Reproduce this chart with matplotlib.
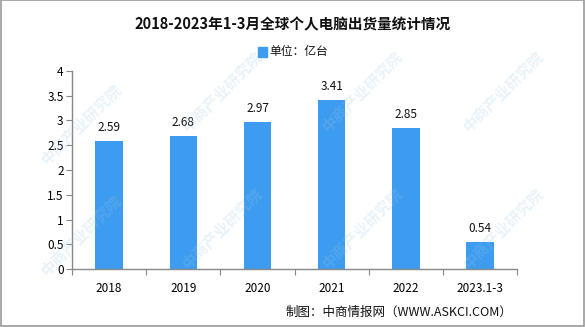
import matplotlib
matplotlib.use("Agg")
import matplotlib.pyplot as plt
from matplotlib.patches import Rectangle

plt.rcParams['font.family'] = ['Noto Sans CJK SC', 'DejaVu Sans']

categories = ["2018", "2019", "2020", "2021", "2022", "2023.1-3"]
shipments = [2.59, 2.68, 2.97, 3.41, 2.85, 0.54]
yticks = [0, 0.5, 1, 1.5, 2, 2.5, 3, 3.5, 4]
ytick_labels = ["0", "0.5", "1", "1.5", "2", "2.5", "3", "3.5", "4"]

bar_color = "#3d9cf0"

fig = plt.figure(figsize=(5.85, 3.27), dpi=100)
ax = fig.add_axes([0.123, 0.177, 0.761, 0.606])

x = list(range(len(categories)))
ax.bar(x, shipments, width=0.37, color=bar_color, zorder=2)
for xi, v in zip(x, shipments):
    ax.text(xi, v + 0.14, f"{v:.2f}", ha="center", va="bottom", fontsize=8.5, color="#111111")

ax.set_xlim(-0.5, len(categories) - 0.5)
ax.set_ylim(0, 4)
ax.set_yticks(yticks)
ax.set_yticklabels(ytick_labels, fontsize=8.5)
ax.set_xticks([i - 0.5 for i in range(len(categories) + 1)], minor=False)
ax.set_xticklabels([])
ax.set_xticks(x, minor=True)
ax.set_xticklabels(categories, minor=True, fontsize=8.5)
ax.tick_params(axis="x", which="major", length=4, color="#888888")
ax.tick_params(axis="x", which="minor", length=0, pad=9)
ax.tick_params(axis="y", length=4, color="#888888", pad=2)
for s in ["top", "right"]:
    ax.spines[s].set_visible(False)
for s in ["left", "bottom"]:
    ax.spines[s].set_color("#888888")
    ax.spines[s].set_linewidth(1)

fig.text(0.5, 0.924, "2018-2023年1-3月全球个人电脑出货量统计情况", ha="center", va="center",
         fontsize=10.5, fontweight="bold", color="#111111")
fig.patches.append(Rectangle((0.441, 0.827), 0.016, 0.029, transform=fig.transFigure,
                             color=bar_color, figure=fig))
fig.text(0.460, 0.841, "单位：亿台", ha="left", va="center", fontsize=8.5, color="#111111")
fig.text(0.876, 0.045, "制图：中商情报网（WWW.ASKCI.COM）", ha="right", va="center",
         fontsize=9, color="#111111")

# faint diagonal watermark text
for wx, wy in [(0.14, 0.62), (0.14, 0.28), (0.38, 0.72), (0.38, 0.30), (0.62, 0.72), (0.62, 0.30),
               (0.86, 0.72), (0.86, 0.30)]:
    fig.text(wx, wy, "中商产业研究院", rotation=45, ha="center", va="center", fontsize=11,
             color="#9cc7e6", alpha=0.22, fontweight="bold", zorder=0)

fig.patches.append(Rectangle((0.0015, 0.003), 0.997, 0.996, transform=fig.transFigure,
                             fill=False, edgecolor="#999999", linewidth=1.2, figure=fig))

fig.savefig("out.png", dpi=100)
